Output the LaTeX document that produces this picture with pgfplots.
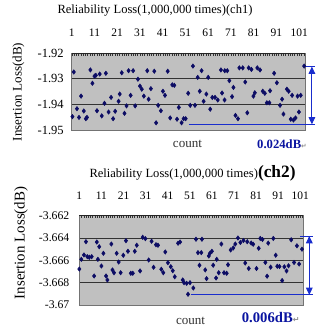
\documentclass[border=0pt]{standalone}
\usepackage{pgfplots}
\pgfplotsset{compat=1.18}
\usepackage{fontspec}
\setmainfont{Liberation Serif}
\newfontfamily\dejavu{DejaVu Sans}
\usetikzlibrary{arrows.meta}
\definecolor{plotbg}{RGB}{192,192,192}
\definecolor{navy}{RGB}{12,12,100}
\definecolor{annblue}{RGB}{25,45,205}
\definecolor{txtblue}{RGB}{10,20,160}
\tikzset{dbl/.style={annblue, line width=0.7pt, {Triangle[width=5pt,length=5.5pt]}-{Triangle[width=5pt,length=5.5pt]}}}
\pgfplotsset{
  relchart/.style={
    scale only axis,
    clip=false,
    axis background/.style={fill=plotbg},
    axis line style={draw=black!55, line width=0.5pt},
    xtick pos=upper,
    xticklabel pos=upper,
    ytick pos=left,
    tick align=inside,
    xtick={1,11,...,101},
    minor xtick={1,2,...,103},
    major tick length=2pt,
    minor tick length=2pt,
    every tick/.style={black!80, line width=0.3pt},
    /pgf/number format/assume math mode=true,
    xticklabel style={font=\fontsize{8.6}{10}\selectfont, yshift=8.5pt},
    ymajorgrids,
    major grid style={black!80, line width=0.45pt},
    ytick style={draw=none},
  },
  dots/.style={only marks, mark=diamond*, mark size=1.65pt, color=navy},
}
\pgfplotstableread{
x y
1.3 -1.9448
1.9 -1.9274
3.3 -1.9417
4.2 -1.9451
5.1 -1.9368
6.3 -1.9426
7.2 -1.9456
7.7 -1.9451
9.2 -1.9266
10.1 -1.9318
11.0 -1.9290
11.6 -1.9287
12.1 -1.9425
13.3 -1.9282
14.2 -1.9445
15.4 -1.9396
16.0 -1.9279
17.2 -1.9430
18.3 -1.9373
19.2 -1.9456
20.1 -1.9427
21.6 -1.9388
22.1 -1.9360
23.0 -1.9277
24.2 -1.9435
25.1 -1.9406
26.0 -1.9269
26.9 -1.9365
28.0 -1.9269
28.9 -1.9406
30.1 -1.9302
31.0 -1.9329
31.8 -1.9341
32.7 -1.9368
34.2 -1.9269
34.8 -1.9380
35.8 -1.9339
37.3 -1.9271
38.1 -1.9472
39.0 -1.9404
40.2 -1.9425
41.1 -1.9349
42.0 -1.9365
43.2 -1.9271
44.3 -1.9453
45.2 -1.9324
46.1 -1.9326
47.3 -1.9458
48.1 -1.9412
49.3 -1.9472
50.2 -1.9456
51.1 -1.9456
52.2 -1.9357
53.1 -1.9404
54.3 -1.9251
55.2 -1.9404
56.4 -1.9295
57.3 -1.9349
58.1 -1.9269
59.0 -1.9388
60.2 -1.9360
61.0 -1.9295
61.9 -1.9419
62.8 -1.9373
64.0 -1.9373
65.2 -1.9383
66.6 -1.9266
67.1 -1.9356
68.2 -1.9383
68.3 -1.9269
69.4 -1.9269
70.3 -1.9308
71.5 -1.9370
72.1 -1.9334
73.0 -1.9443
74.1 -1.9456
74.7 -1.9258
76.2 -1.9258
77.3 -1.9313
78.2 -1.9433
78.8 -1.9258
80.0 -1.9264
80.9 -1.9368
81.5 -1.9355
82.6 -1.9258
83.8 -1.9266
85.0 -1.9349
85.9 -1.9357
86.8 -1.9394
87.9 -1.9394
88.2 -1.9347
90.0 -1.9279
91.2 -1.9316
92.6 -1.9404
93.5 -1.9380
94.1 -1.9438
95.6 -1.9341
96.4 -1.9349
97.3 -1.9458
97.9 -1.9365
98.5 -1.9461
99.4 -1.9453
100.3 -1.9368
100.9 -1.9430
101.7 -1.9365
103.2 -1.9251
}\chone
\pgfplotstableread{
x y
1.0 -3.66678
1.9 -3.66591
3.1 -3.66552
4.0 -3.66433
4.6 -3.66567
5.5 -3.66573
6.6 -3.66567
7.7 -3.66740
8.9 -3.66436
9.4 -3.66591
10.0 -3.66478
11.0 -3.66651
11.9 -3.66537
13.1 -3.66740
13.7 -3.66776
15.5 -3.66454
16.0 -3.66686
16.7 -3.66711
17.9 -3.66537
18.8 -3.66615
19.7 -3.66711
20.9 -3.66555
22.1 -3.66424
23.0 -3.66519
24.3 -3.66716
25.2 -3.66716
26.1 -3.66519
27.0 -3.66465
28.5 -3.66695
29.7 -3.66394
30.9 -3.66406
32.4 -3.66597
33.7 -3.66429
34.6 -3.66662
35.7 -3.66460
36.6 -3.66465
38.1 -3.66680
39.0 -3.66711
39.9 -3.66525
41.1 -3.66621
42.4 -3.66657
43.3 -3.66693
44.2 -3.66747
45.7 -3.66447
46.6 -3.66436
47.8 -3.66776
48.4 -3.66800
49.6 -3.66806
50.2 -3.66904
51.1 -3.66800
52.6 -3.66848
53.8 -3.66411
54.7 -3.66531
55.4 -3.66644
56.2 -3.66531
56.5 -3.66411
58.0 -3.66686
58.6 -3.66764
59.6 -3.66561
60.1 -3.66537
61.0 -3.66519
61.6 -3.66644
62.9 -3.66758
63.2 -3.66591
64.1 -3.66711
65.3 -3.66454
66.5 -3.66711
67.7 -3.66716
68.3 -3.66639
69.5 -3.66507
70.7 -3.66489
71.6 -3.66454
72.8 -3.66400
73.9 -3.66440
75.3 -3.66422
76.1 -3.66624
77.0 -3.66433
77.7 -3.66673
78.8 -3.66445
79.7 -3.66456
81.2 -3.66673
82.2 -3.66492
82.9 -3.66404
83.9 -3.66413
85.2 -3.66619
86.0 -3.66742
86.5 -3.66446
87.6 -3.66661
88.8 -3.66404
89.9 -3.66554
90.6 -3.66653
91.6 -3.66655
92.8 -3.66781
93.8 -3.66658
94.8 -3.66695
95.7 -3.66649
96.9 -3.66416
98.2 -3.66619
99.5 -3.66470
100.5 -3.66633
101.8 -3.66500
}\chtwo
\begin{document}
\begin{tikzpicture}
\useasboundingbox (0pt,0pt) rectangle (240pt,246pt);
% chart 1
\begin{axis}[relchart,
  at={(53.8pt,148.5pt)}, anchor=south west,
  width=175pt, height=57.75pt,
  xmin=1, xmax=103.6,
  ymin=-1.95, ymax=-1.92,
  ytick={-1.92,-1.93,-1.94,-1.95},
  yticklabels={-1.92,-1.93,-1.94,-1.95},
  yticklabel style={font=\fontsize{9.4}{10}\selectfont, xshift=-2.5pt},
]
\addplot[dots] table[x=x,y=y] {\chone};
\draw[black!85, line width=0.5pt] (rel axis cs:0,1) -- (rel axis cs:1,1);
\draw[annblue, line width=0.7pt] (axis cs:103.6,-1.9253) -- (axis cs:108,-1.9253);
\draw[annblue, line width=0.7pt] (axis cs:52.5,-1.9478) -- (axis cs:108,-1.9478);
\draw[dbl] (axis cs:106.6,-1.9253) -- (axis cs:106.6,-1.9478);
\end{axis}
% chart 2
\begin{axis}[relchart,
  at={(59.5pt,17.25pt)}, anchor=south west,
  width=168pt, height=67pt,
  xmin=1, xmax=102.4,
  ymin=-3.67, ymax=-3.662,
  ytick={-3.662,-3.664,-3.666,-3.668,-3.67},
  yticklabels={-3.662,-3.664,-3.666,-3.668,-3.67},
  yticklabel style={font=\fontsize{8.8}{10}\selectfont, xshift=-4pt},
]
\addplot[dots] table[x=x,y=y] {\chtwo};
\draw[black!85, line width=0.5pt] (rel axis cs:0,1) -- (rel axis cs:1,1);
\draw[annblue, line width=0.7pt] (axis cs:100.9,-3.66382) -- (axis cs:106.7,-3.66382);
\draw[annblue, line width=0.7pt] (axis cs:51.5,-3.66910) -- (axis cs:106.7,-3.66910);
\draw[dbl] (axis cs:105.1,-3.66382) -- (axis cs:105.1,-3.66910);
\end{axis}
% titles and labels
\node[font=\fontsize{9.4}{11}\selectfont] at (116.25pt,237.75pt) {Reliability Loss(1,000,000 times)(ch1)};
\node[anchor=base] at (144.4pt,112.5pt) {{\fontsize{9.4}{11}\selectfont Reliability Loss(1,000,000 times)}{\fontsize{13}{15}\selectfont\bfseries(ch2)}};
\node[rotate=90, font=\fontsize{9.8}{11}\selectfont] at (13.9pt,177pt) {Insertion Loss(dB)};
\node[rotate=90, font=\fontsize{11.2}{13}\selectfont] at (15.75pt,63.75pt) {Insertion Loss(dB)};
\node[font=\fontsize{9.8}{11}\selectfont, text=black!80] at (140.6pt,138pt) {count};
\node[font=\fontsize{9.8}{11}\selectfont, text=black!80] at (142.9pt,5.25pt) {count};
\node[font=\fontsize{9.5}{11}\selectfont\bfseries, text=txtblue] at (211.5pt,138pt) {0.024dB{\dejavu\fontsize{5}{6}\selectfont\color{black!45}↵}};
\node[font=\fontsize{11}{13}\selectfont\bfseries, text=txtblue] at (203pt,7.5pt) {0.006dB{\dejavu\fontsize{6}{7}\selectfont\color{black!45}↵}};
\end{tikzpicture}
\end{document}
